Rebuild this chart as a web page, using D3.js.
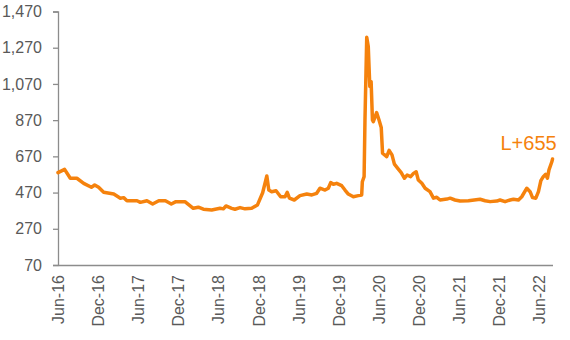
<!DOCTYPE html>
<html>
<head>
<meta charset="utf-8">
<script src="https://cdn.jsdelivr.net/npm/d3@7"></script>
<style>
  html, body { margin: 0; padding: 0; background: #fff; }
  svg { display: block; font-family: "Liberation Sans", Arial, sans-serif; }
</style>
</head>
<body>
<svg id="chart" width="570" height="340"></svg>
<script>
// Spread series (observation dates and levels)
const dates = [
  "2016-06-01","2016-07-01","2016-07-27","2016-08-26","2016-09-26","2016-10-31","2016-11-15","2016-12-03","2016-12-26",
  "2017-02-10","2017-03-12","2017-03-27","2017-04-11","2017-05-27","2017-06-11","2017-07-11","2017-08-06","2017-09-03",
  "2017-10-03","2017-10-30","2017-11-20","2017-12-16","2017-12-31",
  "2018-02-07","2018-03-02","2018-03-25","2018-05-02","2018-06-09","2018-06-24","2018-07-06","2018-08-01","2018-08-16",
  "2018-09-08","2018-10-01","2018-10-31","2018-11-26","2018-12-20",
  "2019-01-08","2019-01-17","2019-01-30","2019-02-19","2019-03-12","2019-04-01","2019-04-11","2019-04-21","2019-05-13",
  "2019-06-08","2019-07-09","2019-08-01","2019-08-23","2019-09-07","2019-09-30","2019-10-15","2019-10-26","2019-11-07",
  "2019-11-22","2019-12-15","2019-12-30",
  "2020-01-14","2020-02-06","2020-02-29","2020-03-15","2020-03-18","2020-03-26","2020-03-30","2020-04-07","2020-04-14",
  "2020-04-21","2020-04-27","2020-05-03","2020-05-07","2020-05-22","2020-06-02","2020-06-12","2020-06-18","2020-07-07",
  "2020-07-18","2020-07-31","2020-08-11","2020-08-29","2020-09-11","2020-09-26","2020-10-08","2020-10-24","2020-11-06",
  "2020-11-18","2020-11-28","2020-12-14","2020-12-29",
  "2021-01-20","2021-02-05","2021-02-20","2021-03-07","2021-04-07","2021-04-22","2021-05-14","2021-06-06","2021-07-14",
  "2021-09-05","2021-09-28","2021-10-21","2021-11-20","2021-12-05","2021-12-28",
  "2022-01-20","2022-02-04","2022-02-27","2022-03-14","2022-04-06","2022-04-21","2022-05-02","2022-05-17","2022-05-29",
  "2022-06-09","2022-06-20","2022-07-01","2022-07-09","2022-07-16","2022-07-29","2022-08-01"
];
const spread = [
  580,598,549,549,521,499,512,499,472,
  462,439,442,425,425,416,425,407,425,
  425,407,420,420,420,
  383,389,378,374,383,380,396,383,378,
  387,380,383,401,469,
  562,484,475,480,447,447,471,439,429,
  453,462,457,466,494,484,494,525,516,
  521,508,484,
  462,447,453,457,530,558,871,1328,1277,
  1056,1083,871,862,912,871,830,688,668,
  703,678,627,600,580,549,567,558,576,
  585,539,521,494,
  475,439,444,429,434,439,429,423,425,
  433,425,420,423,429,420,
  429,433,429,447,494,475,442,439,475,
  536,558,571,549,595,640,655
];
const yTicks = [70, 270, 470, 670, 870, 1070, 1270, 1470];
const xTickDates = ["2016-06-01","2016-12-01","2017-06-01","2017-12-01","2018-06-01","2018-12-01",
  "2019-06-01","2019-12-01","2020-06-01","2020-12-01","2021-06-01","2021-12-01","2022-06-01"];
const endLabel = "L+" + spread[spread.length - 1];

const parse = d3.timeParse("%Y-%m-%d");
const series = dates.map((d, i) => ({ date: parse(d), value: spread[i] }));

const svg = d3.select("#chart");
const axisColor = "#8c8c8c";
const textColor = "#595959";
const lineColor = "#f5820d";

const x = d3.scaleTime()
  .domain([parse("2016-06-01"), parse("2022-08-01")])
  .range([58, 552.5]);
const y = d3.scaleLinear()
  .domain([70, 1470])
  .range([265, 11.5]);

// Y axis
const yAxis = svg.append("g")
  .attr("transform", "translate(58,0)")
  .call(d3.axisLeft(y).tickValues(yTicks).tickFormat(d3.format(",")).tickSize(5).tickPadding(11));
yAxis.select(".domain").attr("stroke", axisColor).attr("stroke-width", 1.3);
yAxis.selectAll(".tick line").attr("stroke", axisColor).attr("stroke-width", 1.3);
yAxis.selectAll(".tick text").attr("fill", textColor).attr("font-size", 16)
  .attr("font-family", "Liberation Sans, Arial, sans-serif");

// X axis
const xAxis = svg.append("g")
  .attr("transform", "translate(0,265)")
  .call(d3.axisBottom(x).tickValues(xTickDates.map(parse)).tickFormat(d3.timeFormat("%b-%y"))
    .tickSize(0).tickSizeOuter(0));
xAxis.select(".domain").attr("stroke", axisColor).attr("stroke-width", 1.3);
xAxis.selectAll(".tick text")
  .attr("fill", textColor).attr("font-size", 16)
  .attr("font-family", "Liberation Sans, Arial, sans-serif")
  .attr("text-anchor", "end")
  .attr("transform", "translate(0,10) rotate(-90)")
  .attr("x", 0).attr("y", 0).attr("dy", "0.35em");

// Spread line
svg.append("path")
  .datum(series)
  .attr("fill", "none")
  .attr("stroke", lineColor)
  .attr("stroke-width", 3.5)
  .attr("stroke-linejoin", "round")
  .attr("stroke-linecap", "round")
  .attr("d", d3.line().x(d => x(d.date)).y(d => y(d.value)));

// Latest value label
svg.append("text")
  .attr("x", 500.5)
  .attr("y", 150)
  .attr("fill", lineColor)
  .attr("font-size", 20)
  .text(endLabel);
</script>
</body>
</html>
